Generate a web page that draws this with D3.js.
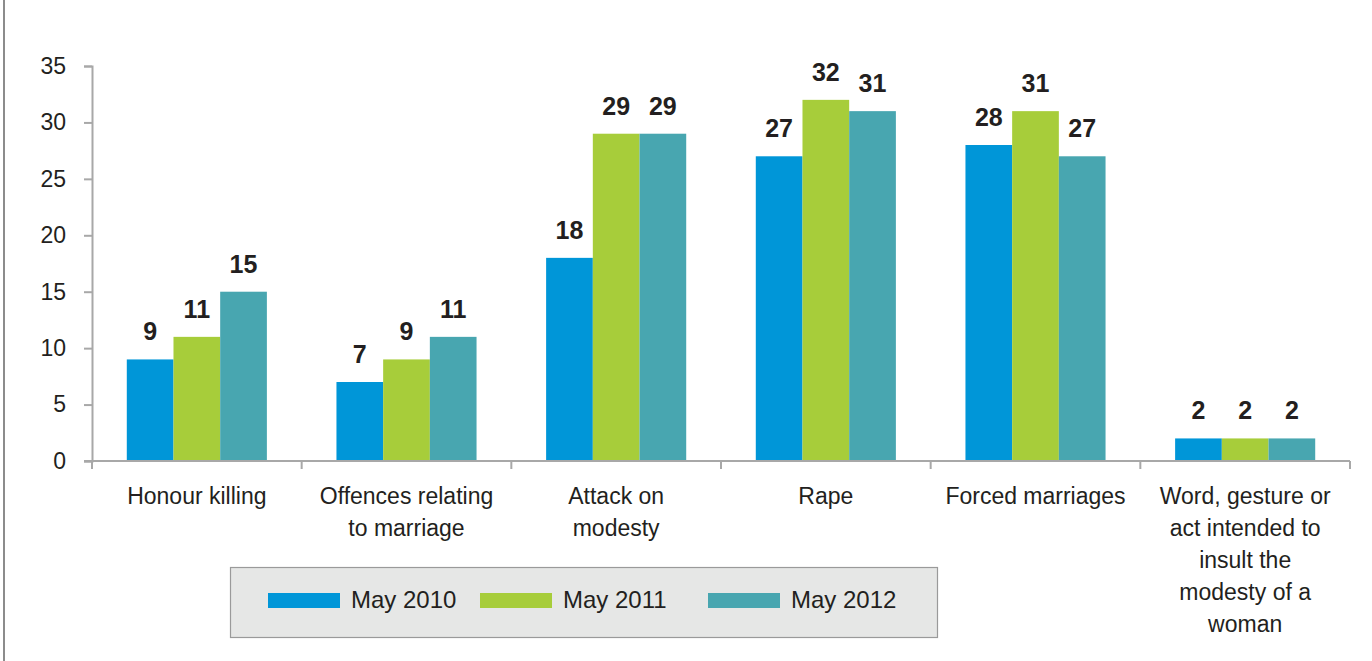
<!DOCTYPE html>
<html>
<head>
<meta charset="utf-8">
<script src="https://cdn.jsdelivr.net/npm/d3@7"></script>
<style>
  body { margin: 0; background: #fff; }
  svg { display: block; font-family: "Liberation Sans", Arial, sans-serif; }
</style>
</head>
<body>
<svg id="chart" width="1372" height="661"></svg>
<script>
// data
const categories = ['Honour killing', 'Offences relating to marriage', 'Attack on modesty', 'Rape', 'Forced marriages', 'Word, gesture or act intended to insult the modesty of a woman'];
const categoryLines = [
	['Honour killing'],
	['Offences relating', 'to marriage'],
	['Attack on', 'modesty'],
	['Rape'],
	['Forced marriages'],
	['Word, gesture or', 'act intended to', 'insult the', 'modesty of a', 'woman']
];
const seriesNames = ['May 2010', 'May 2011', 'May 2012'];
const may2010 = [9, 7, 18, 27, 28, 2];
const may2011 = [11, 9, 29, 32, 31, 2];
const may2012 = [15, 11, 29, 31, 27, 2];
const yTicks = [0, 5, 10, 15, 20, 25, 30, 35];

const colors = ['#0096d8', '#a7cd3a', '#48a6b0'];
const seriesValues = [may2010, may2011, may2012];

const svg = d3.select('#chart');
const axisColor = '#a8a8a8';
const textColor = '#231f20';

// left frame line
svg.append('line')
	.attr('x1', 4).attr('x2', 4)
	.attr('y1', 0).attr('y2', 661)
	.attr('stroke', '#666').attr('stroke-width', 1.5);

const x0 = d3.scaleBand().domain(categories).range([92, 1350]).paddingInner(0).paddingOuter(0);
const x1 = d3.scaleBand().domain(seriesNames).range([0, x0.bandwidth()]).paddingInner(0).paddingOuter(0.745);
const y = d3.scaleLinear().domain([0, 35]).range([461, 66]);

// bars
const groups = svg.selectAll('g.group')
	.data(categories)
	.enter()
	.append('g')
	.attr('class', 'group')
	.attr('transform', (d) => `translate(${x0(d)},0)`);

groups.selectAll('rect')
	.data((d, i) => seriesNames.map((s, j) => ({ s: s, v: seriesValues[j][i], c: colors[j] })))
	.enter()
	.append('rect')
	.attr('x', (d) => x1(d.s))
	.attr('y', (d) => y(d.v))
	.attr('width', x1.bandwidth())
	.attr('height', (d) => y(0) - y(d.v))
	.attr('fill', (d) => d.c);

groups.selectAll('text.val')
	.data((d, i) => seriesNames.map((s, j) => ({ s: s, v: seriesValues[j][i] })))
	.enter()
	.append('text')
	.attr('class', 'val')
	.attr('text-anchor', 'middle')
	.attr('x', (d) => x1(d.s) + x1.bandwidth() / 2)
	.attr('y', (d) => y(d.v) - 19)
	.attr('font-size', 25)
	.attr('font-weight', 'bold')
	.attr('fill', textColor)
	.text((d) => d.v);

// y axis
const yAxis = svg.append('g')
	.attr('transform', 'translate(92,0)')
	.call(d3.axisLeft(y).tickValues(yTicks).tickSize(8).tickPadding(18));
yAxis.select('.domain').attr('stroke', axisColor).attr('stroke-width', 2);
yAxis.selectAll('.tick line').attr('stroke', axisColor).attr('stroke-width', 2);
yAxis.selectAll('.tick text')
	.attr('font-size', 23)
	.attr('fill', textColor)
	.attr('font-family', '"Liberation Sans", Arial, sans-serif');

// x axis line and boundary ticks
svg.append('line')
	.attr('x1', 84).attr('x2', 1350)
	.attr('y1', y(0)).attr('y2', y(0))
	.attr('stroke', axisColor).attr('stroke-width', 2);

const boundaries = categories.map((c) => x0(c)).concat([x0(categories[categories.length - 1]) + x0.bandwidth()]);
svg.selectAll('line.xtick')
	.data(boundaries)
	.enter()
	.append('line')
	.attr('class', 'xtick')
	.attr('x1', (d) => d).attr('x2', (d) => d)
	.attr('y1', y(0)).attr('y2', y(0) + 8)
	.attr('stroke', axisColor).attr('stroke-width', 2);

// category labels
const catText = svg.selectAll('text.cat')
	.data(categories)
	.enter()
	.append('text')
	.attr('class', 'cat')
	.attr('text-anchor', 'middle')
	.attr('font-size', 23)
	.attr('fill', textColor)
	.attr('x', (d) => x0(d) + x0.bandwidth() / 2)
	.attr('y', 504);

catText.selectAll('tspan')
	.data((d, i) => categoryLines[i])
	.enter()
	.append('tspan')
	.attr('x', function () { return d3.select(this.parentNode).attr('x'); })
	.attr('dy', (d, i) => (i === 0 ? 0 : 32))
	.text((d) => d);

// legend
const legend = svg.append('g');
legend.append('rect')
	.attr('x', 230.5).attr('y', 567.5)
	.attr('width', 707).attr('height', 70)
	.attr('fill', '#e6e7e6')
	.attr('stroke', '#9a9a9a').attr('stroke-width', 1.2);

const legendX = [268, 480, 708];
const items = legend.selectAll('g.item')
	.data(seriesNames)
	.enter()
	.append('g')
	.attr('class', 'item')
	.attr('transform', (d, i) => `translate(${legendX[i]},0)`);

items.append('rect')
	.attr('x', 0).attr('y', 593)
	.attr('width', 72).attr('height', 15)
	.attr('fill', (d, i) => colors[i]);

items.append('text')
	.attr('x', 83).attr('y', 608)
	.attr('font-size', 24)
	.attr('fill', textColor)
	.text((d) => d);
</script>
</body>
</html>
